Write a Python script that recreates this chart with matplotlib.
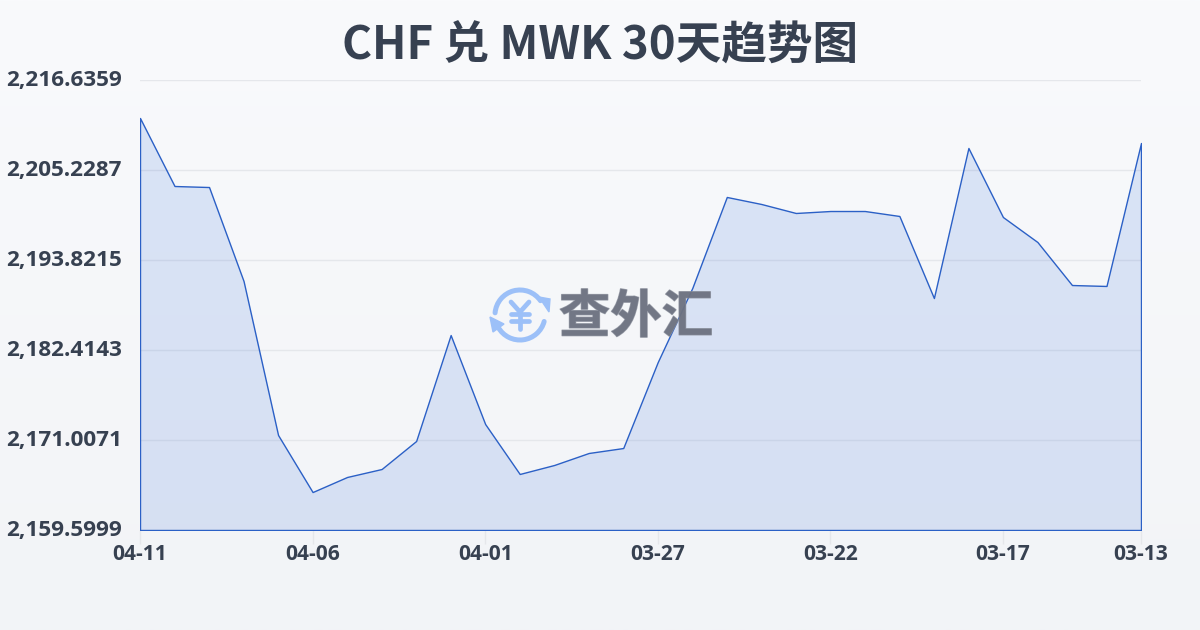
import numpy as np
import matplotlib
matplotlib.use("Agg")
import matplotlib.pyplot as plt
import matplotlib.patheffects as pe
from matplotlib.patches import Arc, Polygon
from matplotlib.transforms import ScaledTranslation

plt.rcParams["font.family"] = ["Open Sans", "Noto Sans CJK SC", "DejaVu Sans"]

# Datos
dates = ["04-11", "04-06", "04-01", "03-27", "03-22", "03-17", "03-13"]
date_pos = [0, 5, 10, 15, 20, 25, 29]
rates = [2211.82, 2203.20, 2203.07, 2191.16, 2171.64, 2164.41, 2166.32, 2167.33,
         2170.88, 2184.31, 2173.03, 2166.70, 2167.84, 2169.36, 2169.99, 2180.89,
         2190.27, 2201.81, 2200.92, 2199.78, 2200.03, 2200.03, 2199.40, 2189.00,
         2208.02, 2199.27, 2196.10, 2190.65, 2190.53, 2208.65]
y_ticks = [2159.5999, 2171.0071, 2182.4143, 2193.8215, 2205.2287, 2216.6359]
y_labels = ["2,159.5999", "2,171.0071", "2,182.4143", "2,193.8215", "2,205.2287", "2,216.6359"]

W, H = 1200, 630
text_color = "#374151"
line_color = "#2b60c6"

fig = plt.figure(figsize=(W / 100, H / 100), dpi=100)

# Fondo con degradado vertical
bg = fig.add_axes([0, 0, 1, 1], zorder=0)
bg.imshow(np.linspace(0, 1, 256).reshape(-1, 1), aspect="auto", extent=[0, 1, 0, 1],
          cmap=matplotlib.colors.LinearSegmentedColormap.from_list("bg", ["#f9fafc", "#f2f4f7"]))
bg.axis("off")

ax = fig.add_axes([140 / W, 1 - 530 / H, 1001 / W, 450 / H], zorder=1)
ax.patch.set_alpha(0)
x = np.arange(len(rates))
ax.fill_between(x, rates, y_ticks[0], facecolor=(0.2, 0.42, 0.85, 0.15),
                edgecolor=line_color, linewidth=1, zorder=3)
ax.set_xlim(0, 29)
ax.set_ylim(y_ticks[0], y_ticks[-1])
ax.set_yticks(y_ticks, y_labels)
ax.set_xticks(date_pos, dates)
ax.grid(axis="y", color="#e5e7eb", linewidth=1)
ax.set_axisbelow(True)
for s in ax.spines.values():
    s.set_visible(False)
ax.tick_params(axis="y", length=0, pad=13, labelsize=16.2, labelcolor=text_color)
ax.tick_params(axis="x", length=10, width=1, color="#e5e7eb", pad=0,
               labelsize=15.1, labelcolor=text_color)
for lb in ax.get_xticklabels() + ax.get_yticklabels():
    lb.set_fontweight("bold")
# Subir un poco las etiquetas del eje y
up = ScaledTranslation(0, 2 / 100, fig.dpi_scale_trans)
for lb in ax.get_yticklabels():
    lb.set_transform(lb.get_transform() + up)

fig.text(600 / W, 1 - 47 / H, "CHF 兑 MWK 30天趋势图", ha="center", va="center",
         fontsize=32.9, fontweight="bold", color=text_color,
         family=["Noto Sans CJK SC", "DejaVu Sans"], zorder=5)

# Marca de agua
wm = fig.add_axes([0, 0, 1, 1], zorder=4)
wm.set_xlim(0, W)
wm.set_ylim(H, 0)
wm.axis("off")
logo = "#9cc0f8"
wm.add_patch(Arc((520, 315), 50, 50, theta1=185, theta2=325, color=logo, lw=3.6, capstyle="round"))
wm.add_patch(Arc((520, 315), 50, 50, theta1=15, theta2=150, color=logo, lw=3.6, capstyle="round"))
wm.add_patch(Polygon([[539, 297], [550, 299], [549, 312]], closed=True, color=logo))
wm.add_patch(Polygon([[490, 317], [504, 324], [493, 332]], closed=True, color=logo))
# Simbolo del yen dibujado con trazos
yen = dict(color=logo, lw=3.4, solid_capstyle="round")
wm.plot([511, 520, 529], [302, 312, 302], **yen)
wm.plot([520, 520], [312, 329], **yen)
wm.plot([511, 529], [314, 314], **yen)
wm.plot([511, 529], [321, 321], **yen)
wm.text(636, 317, "查外汇", ha="center", va="center", fontsize=37, fontweight="black",
        color="#6d7281", alpha=0.8, family=["Noto Sans CJK SC", "DejaVu Sans"],
        path_effects=[pe.withStroke(linewidth=1.0, foreground="#8a8f9b")])

fig.savefig("out.png", dpi=100)
